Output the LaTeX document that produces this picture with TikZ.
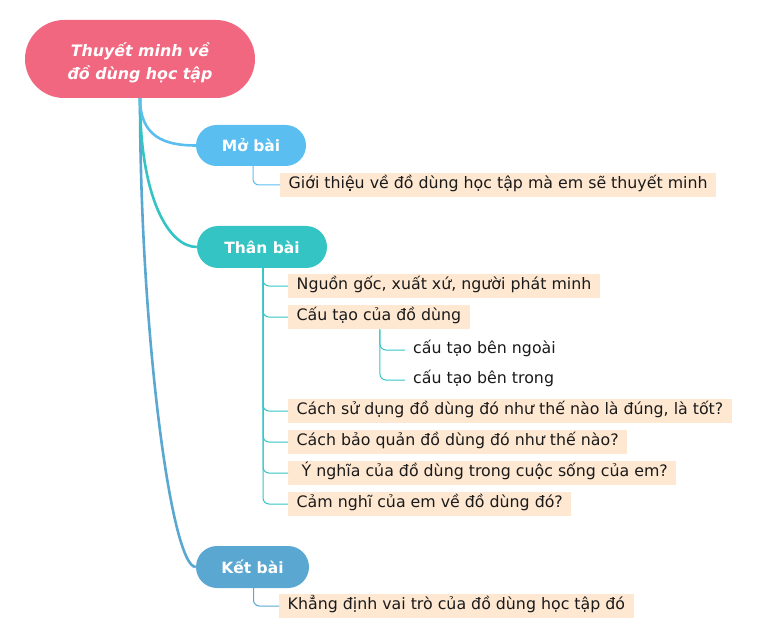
\documentclass[tikz,border=0pt]{standalone}
\usepackage{fontspec}
\setmainfont{DejaVu Sans}
\definecolor{rootc}{HTML}{F26780}
\definecolor{moc}{HTML}{5BBEF0}
\definecolor{thanc}{HTML}{34C4C4}
\definecolor{ketc}{HTML}{5AA8D1}
\definecolor{leafbg}{HTML}{FEE8D2}
\definecolor{txt}{HTML}{1A1A1A}
\tikzset{
  pill/.style={inner sep=0pt, text=white, font=\fontsize{15.5}{19}\selectfont\bfseries},
  leaf/.style={anchor=west, fill=leafbg, inner xsep=8.5pt, inner ysep=4.5pt, text height=11pt, text depth=4.5pt, text=txt, font=\fontsize{15.8}{18}\selectfont},
  subleaf/.style={leaf, fill=none, inner xsep=8pt},
  mainlink/.style={line width=2.6pt},
  leaflink/.style={line width=1pt, rounded corners=6pt},
}
\begin{document}
\begin{tikzpicture}[x=1pt,y=-1pt]
\useasboundingbox (0,0) rectangle (766,639);
% main nodes
\node[pill, fill=rootc, rounded corners=39pt, minimum width=230pt, minimum height=78pt,
      font=\fontsize{15.8}{23}\selectfont\bfseries\itshape] (root) at (140,59)
      {\smash{\raisebox{-7.5pt}{\parbox{210pt}{\centering Thuyết minh về\\đồ dùng học tập}}}};
\node[pill, fill=moc, rounded corners=20.5pt, minimum width=110pt, minimum height=41pt] (mo) at (251,145.5) {Mở bài};
\node[pill, fill=thanc, rounded corners=21pt, minimum width=130pt, minimum height=42pt] (than) at (262,247) {Thân bài};
\node[pill, fill=ketc, rounded corners=21pt, minimum width=113pt, minimum height=42pt] (ket) at (252.5,567) {Kết bài};
% leaves
\node[leaf] (gioi) at (280,185) {Giới thiệu về đồ dùng học tập mà em sẽ thuyết minh};
\node[leaf] (nguon) at (288,286) {Nguồn gốc, xuất xứ, người phát minh};
\node[leaf] (cautao) at (288,317) {Cấu tạo của đồ dùng};
\node[subleaf] (ngoai) at (405,350) {cấu tạo bên ngoài};
\node[subleaf] (trong) at (405,380) {cấu tạo bên trong};
\node[leaf] (sudung) at (288,411) {Cách sử dụng đồ dùng đó như thế nào là đúng, là tốt?};
\node[leaf] (baoquan) at (288,442) {Cách bảo quản đồ dùng đó như thế nào?};
\node[leaf] (ynghia) at (288,473) {\ Ý nghĩa của đồ dùng trong cuộc sống của em?};
\node[leaf] (camnghi) at (288,504) {Cảm nghĩ của em về đồ dùng đó?};
\node[leaf] (khang) at (279,606) {Khẳng định vai trò của đồ dùng học tập đó};
% main connectors
\draw[mainlink, ketc] (root.south) .. controls +(0,230) and +(-25,0) .. (ket.west);
\draw[mainlink, thanc] (root.south) .. controls +(0,100) and +(-28,0) .. (than.west);
\draw[mainlink, moc] (root.south) .. controls +(0,38) and +(-32,0) .. (mo.west);
% leaf connectors
\draw[leaflink, moc] ([xshift=2pt]mo.south) |- (gioi.west);
\foreach \n in {nguon,cautao,sudung,baoquan,ynghia,camnghi}
  \draw[leaflink, thanc] ([xshift=1pt]than.south) |- (\n.west);
\foreach \n in {ngoai,trong}
  \draw[leaflink, thanc] ([xshift=1pt]cautao.south) |- (\n.west);
\draw[leaflink, ketc] ([xshift=1pt]ket.south) |- (khang.west);
\end{tikzpicture}
\end{document}
